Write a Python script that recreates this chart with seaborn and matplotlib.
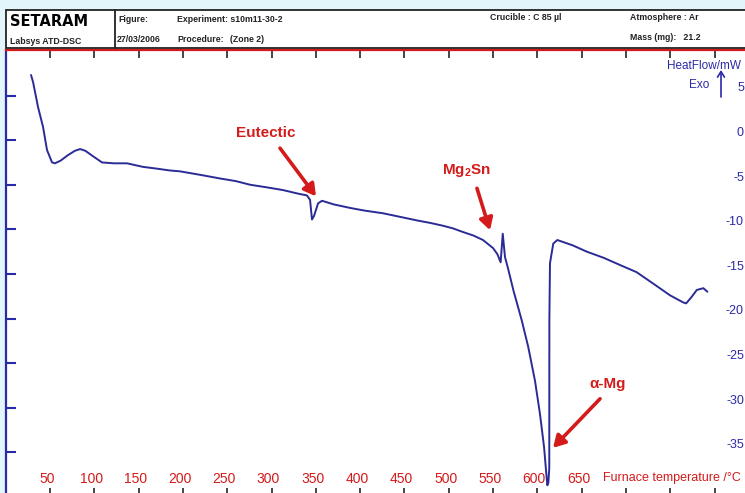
import matplotlib
matplotlib.use("Agg")
import matplotlib.pyplot as plt
import matplotlib.transforms as mtransforms
import seaborn as sns
import pandas as pd
from matplotlib.patches import Rectangle
from matplotlib.lines import Line2D

# ---------------- data ----------------
temperature_c = [28.6, 30.9, 36.5, 42.1, 46.6, 52.3, 55.6, 62, 70, 78, 84, 90, 97,
                 108.7, 122, 136.9, 155, 170.8, 185, 196.7, 220, 241.9, 260, 275.7,
                 295, 313, 330, 340, 343.5, 345.7, 348, 352.5, 357, 370, 388.6, 405,
                 425.8, 445, 464, 480, 493.6, 505, 516, 528, 538.7, 550, 555, 558.6,
                 561, 563.5, 567, 572.9, 582.4, 589.8, 597.4, 603, 607.6, 609.8,
                 611.3, 612.5, 613.5, 613.6, 614.3, 618, 622.6, 640, 655.7, 675,
                 693.3, 712, 731, 749.8, 764.7, 768, 774, 780, 787.4, 792]
heat_flow_mw = [6.5, 5.7, 2.9, 0.7, -1.9, -3.3, -3.4, -3.1, -2.5, -2.0, -1.8, -2.0, -2.5,
                -3.3, -3.4, -3.4, -3.8, -4.0, -4.2, -4.3, -4.7, -5.1, -5.4, -5.8,
                -6.1, -6.4, -6.8, -7.0, -7.5, -9.7, -9.3, -7.9, -7.6, -8.0, -8.4, -8.7,
                -9.0, -9.4, -9.8, -10.1, -10.4, -10.7, -11.1, -11.5, -12.0, -12.9, -13.6, -14.5,
                -11.3, -13.9, -15.2, -17.6, -21.0, -24.0, -27.8, -31.5, -35.2, -37.8,
                -39.5, -39.2, -37.5, -21.0, -14.6, -12.4, -12.0, -12.6, -13.3, -14.0,
                -14.8, -15.6, -16.9, -18.2, -19.0, -19.1, -18.4, -17.6, -17.4, -17.8]

x_ticks = [50, 100, 150, 200, 250, 300, 350, 400, 450, 500, 550, 600, 650, 700, 750, 800]
x_tick_labels = ["50", "100", "150", "200", "250", "300", "350", "400", "450", "500",
                 "550", "600", "650", "", "", ""]
y_ticks = [5, 0, -5, -10, -15, -20, -25, -30, -35]
y_tick_labels = ["5", "0", "-5", "-10", "-15", "-20", "-25", "-30", "-35"]

peak_labels = ["Eutectic", r"$\mathrm{Mg_2Sn}$", "α-Mg"]

# ---------------- style ----------------
sns.set_style("white")
plt.rcParams['font.family'] = ['Liberation Sans', 'DejaVu Sans']
plt.rcParams['mathtext.fontset'] = 'custom'
plt.rcParams['mathtext.rm'] = 'Liberation Sans:bold'
plt.rcParams['mathtext.default'] = 'rm'

RED = "#d41a1a"
BLUE = "#2a2aa8"
NAVY = "#2b2b96"
CYAN = "#e2f5fa"

W, H = 745, 493
def fx(px):
    return px / W
def fy(py):
    return 1 - py / H

fig = plt.figure(figsize=(7.45, 4.93), dpi=100, facecolor=CYAN)

# header box
fig.add_artist(Rectangle((fx(6), fy(48)), fx(800), (48 - 10) / H, transform=fig.transFigure,
                         facecolor="white", edgecolor="#222222", lw=1.3))
fig.add_artist(Line2D([fx(115), fx(115)], [fy(48), fy(10)], transform=fig.transFigure,
                      color="#222222", lw=1.3))
fig.text(fx(10), fy(22), "SETARAM", fontsize=10.5, fontweight='heavy', family='DejaVu Sans',
         ha='left', va='center', color='black')
hdr = dict(fontsize=6.3, fontweight='bold', color='#222222', va='center', ha='left')
fig.text(fx(10), fy(42), "Labsys ATD-DSC", **hdr)
fig.text(fx(118), fy(19), "Figure:", **hdr)
fig.text(fx(177), fy(19), "Experiment: s10m11-30-2", **hdr)
fig.text(fx(117), fy(40), "27/03/2006", **hdr)
fig.text(fx(177), fy(40), "Procedure:", **hdr)
fig.text(fx(230), fy(40), "(Zone 2)", **hdr)
fig.text(fx(490), fy(18), "Crucible : C 85 µl", **hdr)
fig.text(fx(630), fy(18), "Atmosphere : Ar", **hdr)
fig.text(fx(630), fy(38), "Mass (mg):   21.2", **hdr)

# main axes
ax = fig.add_axes([fx(6), fy(496), 1 - fx(6), (496 - 50) / H])
ax.set_facecolor("white")
ax.set_xlim(0.34, 834.4)
ax.set_ylim(-40.70, 9.305)

df = pd.DataFrame({"T": temperature_c, "HF": heat_flow_mw})
sns.lineplot(data=df, x="T", y="HF", sort=False, estimator=None, color=NAVY, lw=1.4, ax=ax)
ax.set_xlabel("")
ax.set_ylabel("")

for s in ["right", "bottom"]:
    ax.spines[s].set_visible(False)
ax.spines["top"].set_color(RED)
ax.spines["top"].set_linewidth(1.6)
ax.spines["left"].set_color(BLUE)
ax.spines["left"].set_linewidth(1.6)

ax.set_xticks(x_ticks)
ax.set_xticklabels(x_tick_labels)
ax.tick_params(axis='x', which='major', top=True, bottom=True, direction='in', length=6,
               width=1.2, labelcolor=RED, labelsize=10, pad=-17.5)
shift = mtransforms.ScaledTranslation(-3 / 100, 0, fig.dpi_scale_trans)
for lab in ax.get_xticklabels():
    lab.set_transform(lab.get_transform() + shift)
# y scale: labels drawn at the right edge inside the frame, ticks on the left
ax.set_yticks(y_ticks)
ax.tick_params(axis='y', which='major', left=False, right=False, labelleft=False,
               labelright=False)
for v, lab in zip(y_ticks, y_tick_labels):
    ax.text(0.9985, v, lab, transform=ax.get_yaxis_transform(), ha='right', va='center',
            color=BLUE, fontsize=9, clip_on=False)
ax.set_yticks([v - 0.8 for v in y_ticks], minor=True)
ax.tick_params(axis='y', which='minor', left=True, right=False, direction='in', length=7,
               width=1.5, color=BLUE)
for t in ax.xaxis.get_major_ticks():
    t.tick1line.set_color(NAVY)
    t.tick2line.set_color(RED)

# axis titles
fig.text(fx(603), fy(478), "Furnace temperature /°C", color=RED, fontsize=9, ha='left', va='center')
fig.text(fx(667), fy(66), "HeatFlow/mW", color=BLUE, fontsize=8.5, ha='left', va='center')
fig.text(fx(699), fy(85), "Exo", color=BLUE, fontsize=8.5, ha='center', va='center')
ax.annotate('', xy=(fx(721), fy(70)), xytext=(fx(721), fy(97)), xycoords='figure fraction',
            textcoords='figure fraction',
            arrowprops=dict(arrowstyle='->,head_length=0.4,head_width=0.25', color=BLUE, lw=1.2,
                            shrinkA=0, shrinkB=0))

# peak annotations
arrow_kw = dict(arrowstyle='-|>,head_length=0.7,head_width=0.4', color=RED, lw=2.6,
                shrinkA=0, shrinkB=0)
ax.text(293, 0.0, peak_labels[0], color=RED, fontsize=11, fontweight='bold', ha='center', va='center')
ax.annotate('', xy=(350.2, -7.1), xytext=(309.6, -1.7), arrowprops=arrow_kw)
ax.text(520.6, -4.2, peak_labels[1], color=RED, fontsize=11, fontweight='bold', ha='center', va='center')
ax.annotate('', xy=(546.6, -10.9), xytext=(531.9, -6.2), arrowprops=arrow_kw)
ax.text(679.8, -28.1, peak_labels[2], color=RED, fontsize=11, fontweight='bold', ha='center', va='center')
ax.annotate('', xy=(617.7, -35.3), xytext=(670.8, -29.8), arrowprops=arrow_kw)

fig.savefig("out.png", dpi=100, facecolor=CYAN)
